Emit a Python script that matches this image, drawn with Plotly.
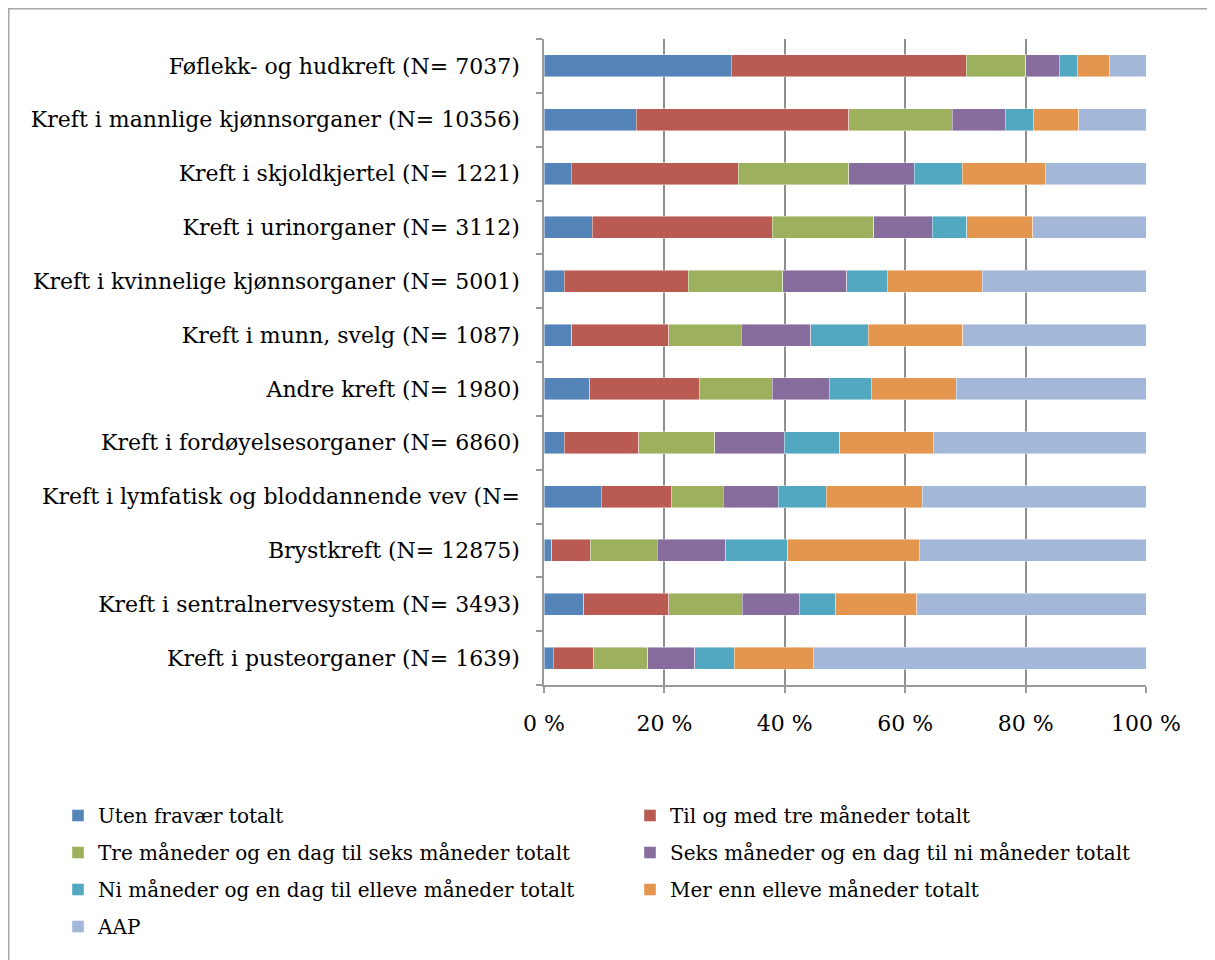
import plotly.graph_objects as go

categories = [
    "Føflekk- og hudkreft (N= 7037)",
    "Kreft i mannlige kjønnsorganer (N= 10356)",
    "Kreft i skjoldkjertel (N= 1221)",
    "Kreft i urinorganer (N= 3112)",
    "Kreft i kvinnelige kjønnsorganer (N= 5001)",
    "Kreft i munn, svelg (N= 1087)",
    "Andre kreft (N= 1980)",
    "Kreft i fordøyelsesorganer (N= 6860)",
    "Kreft i lymfatisk og bloddannende vev (N=",
    "Brystkreft (N= 12875)",
    "Kreft i sentralnervesystem (N= 3493)",
    "Kreft i pusteorganer (N= 1639)",
]

series_names = [
    "Uten fravær totalt",
    "Til og med tre måneder totalt",
    "Tre måneder og en dag til seks måneder totalt",
    "Seks måneder og en dag til ni måneder totalt",
    "Ni måneder og en dag til elleve måneder totalt",
    "Mer enn elleve måneder totalt",
    "AAP",
]

uten_fravaer = [31.1, 15.3, 4.5, 8.0, 3.4, 4.6, 7.6, 3.4, 9.5, 1.3, 6.6, 1.5]
til_tre_mnd = [39.0, 35.3, 27.8, 29.9, 20.6, 16.1, 18.2, 12.3, 11.6, 6.4, 14.1, 6.8]
tre_til_seks = [9.9, 17.2, 18.3, 16.9, 15.7, 12.1, 12.1, 12.7, 8.7, 11.1, 12.2, 8.9]
seks_til_ni = [5.6, 8.8, 10.9, 9.7, 10.6, 11.5, 9.5, 11.5, 9.1, 11.4, 9.5, 7.8]
ni_til_elleve = [3.0, 4.7, 8.0, 5.7, 6.7, 9.6, 7.0, 9.2, 8.0, 10.3, 6.1, 6.6]
mer_enn_elleve = [5.3, 7.5, 13.8, 11.0, 15.8, 15.7, 14.1, 15.6, 15.9, 21.8, 13.4, 13.1]
aap = [6.1, 11.2, 16.7, 18.8, 27.2, 30.4, 31.5, 35.3, 37.2, 37.7, 38.1, 55.3]

x_tick_vals = [0, 20, 40, 60, 80, 100]
x_tick_text = ["0 %", "20 %", "40 %", "60 %", "80 %", "100 %"]

series_values = [uten_fravaer, til_tre_mnd, tre_til_seks, seks_til_ni,
                 ni_til_elleve, mer_enn_elleve, aap]
colors = ["#5585B8", "#B95B53", "#9CB05E", "#876D9E", "#52A8C0", "#E4964E", "#A3B7D8"]
# left column: legend, right column: legend2
legend_ids = ["legend", "legend2", "legend", "legend2", "legend", "legend2", "legend"]

FONT = "DejaVu Serif"

fig = go.Figure()
for i, (name, vals, col, lg) in enumerate(zip(series_names, series_values, colors, legend_ids)):
    fig.add_trace(go.Bar(
        y=categories, x=vals, name=name, orientation="h",
        marker=dict(color=col, line=dict(color="rgba(255,255,255,0.55)", width=0.8)),
        legend=lg, legendgroup=f"g{i}",
    ))

# page has an 8px body margin, so the figure is 8px smaller than the window
W, H = 1207, 952
L, R, T, B = 536, 69, 31, 275
pw, ph = W - L - R, H - T - B

def px_x(px):
    return (px - L) / pw

def px_y(py):
    return 1 - (py - T) / ph

def legend_cfg(left_px, top_px):
    return dict(
        orientation="v", xref="container", yref="container",
        x=left_px / W, y=1 - top_px / H, xanchor="left", yanchor="top",
        traceorder="grouped", tracegroupgap=8,
        font=dict(family=FONT, size=20, color="#000"),
        bgcolor="rgba(0,0,0,0)", itemclick=False, itemdoubleclick=False,
    )

fig.update_layout(
    width=W, height=H,
    margin=dict(l=L, r=R, t=T, b=B, autoexpand=False),
    barmode="stack", bargap=0.59,
    paper_bgcolor="white", plot_bgcolor="white",
    font=dict(family=FONT, size=22, color="#000"),
    showlegend=True,
    legend=legend_cfg(50, 788),
    legend2=legend_cfg(622, 788),
    xaxis=dict(
        range=[0, 100], tickvals=x_tick_vals, ticktext=x_tick_text,
        showgrid=True, gridcolor="#8F8F8F", gridwidth=1.5,
        showline=True, linecolor="#9A9A9A", linewidth=1.5,
        ticks="outside", ticklen=6, tickcolor="#9A9A9A", tickwidth=1.5,
        tickfont=dict(family=FONT, size=22, color="#000"),
        ticklabelstandoff=12, zeroline=False, fixedrange=True,
        automargin=False,
    ),
    yaxis=dict(
        categoryorder="array", categoryarray=categories[::-1],
        showline=True, linecolor="#9A9A9A", linewidth=1.5,
        ticks="outside", ticklen=6, tickcolor="#9A9A9A", tickwidth=1.5,
        tickson="boundaries",
        tickfont=dict(family=FONT, size=22, color="#000"),
        ticklabelstandoff=18, showgrid=False, fixedrange=True,
        automargin=False,
    ),
    shapes=[dict(
        type="rect", xref="paper", yref="paper",
        x0=px_x(0.75), x1=px_x(1204),
        y0=px_y(990), y1=px_y(0.75),
        line=dict(color="#A6A6A6", width=1.5), fillcolor="rgba(0,0,0,0)",
        layer="below",
    )],
)

fig.write_html("out.html")
